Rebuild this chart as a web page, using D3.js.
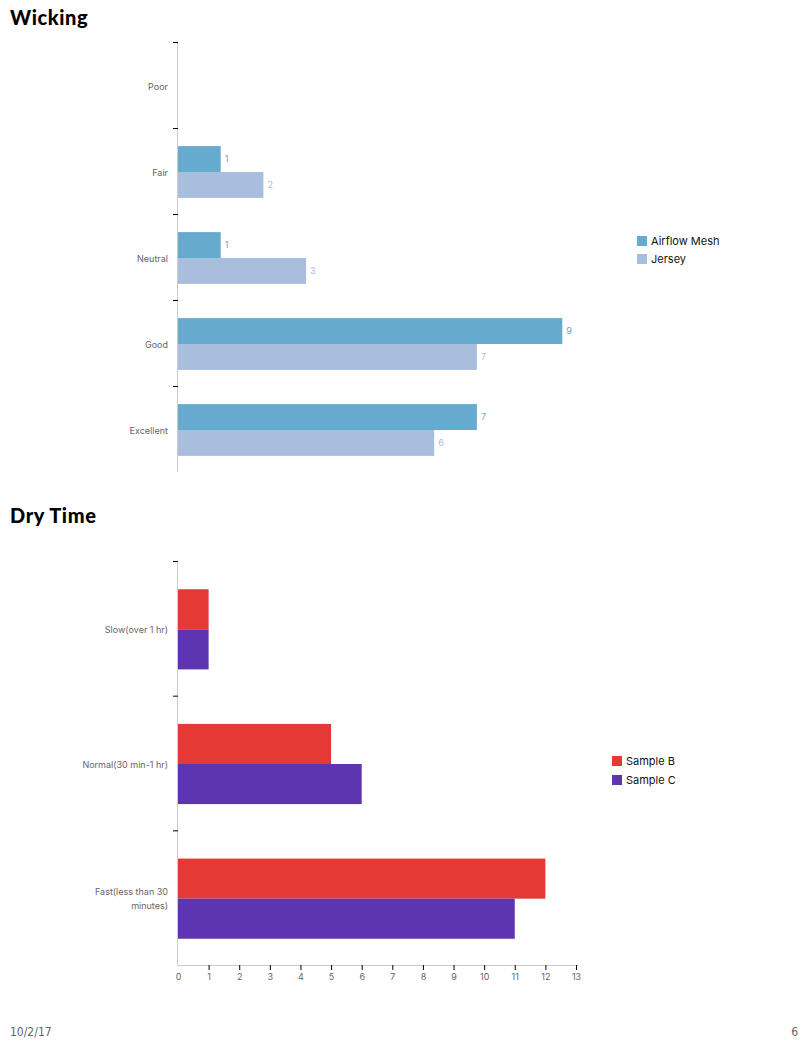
<!DOCTYPE html>
<html><head><meta charset="utf-8">
<script src="https://cdn.jsdelivr.net/npm/d3@7"></script>
<style>
body{margin:0;background:#fff;}
svg{display:block;font-family:"Inter","Liberation Sans",sans-serif;}
</style></head>
<body><svg id="c" width="808" height="1045"></svg>
<script>
const wickCategories = ["Poor","Fair","Neutral","Good","Excellent"];
const wickSeries = ["Airflow Mesh","Jersey"];
const wickAirflow = [0,1,1,9,7];
const wickJersey = [0,2,3,7,6];
const wickColors = ["#67aacf","#a7bedc"];
const wickLabelColors = ["#6aa6d0","#a9bcdc"];

const dryCategories = ["Slow(over 1 hr)","Normal(30 min-1 hr)","Fast(less than 30 minutes)"];
const drySeries = ["Sample B","Sample C"];
const drySampleB = [1,5,12];
const drySampleC = [1,6,11];
const dryColors = ["#e53935","#5e35b1"];
const dryTicks = [0,1,2,3,4,5,6,7,8,9,10,11,12,13];

const svg = d3.select("#c");

svg.append("text").attr("x",10).attr("y",25).text("Wicking")
  .attr("font-family","Lato, 'DejaVu Sans', sans-serif").attr("font-weight","900").attr("font-size",20).attr("letter-spacing",0.6).attr("fill","#000");
svg.append("text").attr("x",10).attr("y",523).text("Dry Time")
  .attr("font-family","Lato, 'DejaVu Sans', sans-serif").attr("font-weight","900").attr("font-size",20).attr("letter-spacing",0.6).attr("fill","#000");

// ---------- Wicking ----------
{
  const x = d3.scaleLinear().domain([0,10]).range([178,605]);
  const y = d3.scaleBand().domain(wickCategories).range([42,472]);
  const inner = d3.scaleBand().domain(wickSeries).range([1,y.bandwidth()+1]).paddingInner(0).paddingOuter(0.66);
  const data = [wickAirflow, wickJersey];
  const g = svg.append("g");
  g.append("line").attr("x1",177.5).attr("x2",177.5).attr("y1",42).attr("y2",472).attr("stroke","#ccc");
  wickCategories.forEach((c,i)=>{
    g.append("line").attr("x1",173).attr("x2",178).attr("y1",y(c)+0.5).attr("y2",y(c)+0.5).attr("stroke","#000");
    g.append("text").attr("x",168).attr("y",y(c)+y.bandwidth()/2).attr("dy","0.55em")
      .attr("text-anchor","end").attr("font-size",9).attr("fill","#666").text(c);
  });
  wickSeries.forEach((s,si)=>{
    wickCategories.forEach((c,i)=>{
      const v = data[si][i];
      if(!v) return;
      const yy = y(c)+inner(s);
      g.append("rect").attr("x",x(0)).attr("y",yy).attr("width",x(v)-x(0)).attr("height",inner.bandwidth()).attr("fill",wickColors[si]);
      g.append("text").attr("x",x(v)+4).attr("y",yy+inner.bandwidth()/2).attr("dy","0.35em")
        .attr("font-size",9).attr("fill",wickLabelColors[si]).text(v);
    });
  });
  wickSeries.forEach((s,si)=>{
    g.append("rect").attr("x",637).attr("y",236+si*18).attr("width",10).attr("height",10).attr("fill",wickColors[si]);
    g.append("text").attr("x",651).attr("y",241+si*18).attr("dy","0.35em").attr("font-size",11).attr("fill","#111").text(s);
  });
}

// ---------- Dry Time ----------
{
  const x = d3.scaleLinear().domain([0,13]).range([178,576]);
  const y = d3.scaleBand().domain(dryCategories).range([561,965]);
  const inner = d3.scaleBand().domain(drySeries).range([1,y.bandwidth()+1]).paddingInner(0).paddingOuter(0.68);
  const data = [drySampleB, drySampleC];
  const g = svg.append("g");
  g.append("line").attr("x1",177.5).attr("x2",177.5).attr("y1",561).attr("y2",965).attr("stroke","#ccc");
  dryCategories.forEach((c,i)=>{
    g.append("line").attr("x1",173).attr("x2",178).attr("y1",y(c)+0.5).attr("y2",y(c)+0.5).attr("stroke","#000");
    const cy = y(c)+y.bandwidth()/2;
    const lines = c === "Fast(less than 30 minutes)" ? ["Fast(less than 30","minutes)"] : [c];
    lines.forEach((t,li)=>{
      g.append("text").attr("x",168).attr("y",cy + (li - (lines.length-1)/2)*14).attr("dy","0.5em")
        .attr("text-anchor","end").attr("font-size",9).attr("fill","#666").text(t);
    });
  });
  drySeries.forEach((s,si)=>{
    dryCategories.forEach((c,i)=>{
      const v = data[si][i];
      g.append("rect").attr("x",x(0)).attr("y",y(c)+inner(s)).attr("width",x(v)-x(0)).attr("height",inner.bandwidth()).attr("fill",dryColors[si]);
    });
  });
  const ax = g.append("g").attr("transform","translate(0,965)")
    .call(d3.axisBottom(x).tickValues(dryTicks).tickSize(5).tickSizeOuter(0).tickFormat(d3.format("d")));
  ax.attr("font-family",null);
  ax.select(".domain").attr("stroke","#ccc").attr("d","M177.5,0.5H579");
  ax.selectAll(".tick line").attr("stroke","#000");
  ax.selectAll(".tick").filter(d=>d===0).select("line").remove();
  ax.selectAll(".tick text").attr("font-size",9).attr("fill","#666").attr("dy","0.5em").attr("y",10);
  drySeries.forEach((s,si)=>{
    g.append("rect").attr("x",612).attr("y",756+si*19).attr("width",10).attr("height",10).attr("fill",dryColors[si]);
    g.append("text").attr("x",626).attr("y",761+si*19).attr("dy","0.35em").attr("font-size",11).attr("fill","#111").text(s);
  });
}

svg.append("text").attr("x",10).attr("y",1036).attr("font-family","'DejaVu Sans Condensed','Liberation Sans Narrow',sans-serif")
  .attr("font-size",12).attr("fill","#666").text("10/2/17");
svg.append("text").attr("x",798).attr("y",1036).attr("text-anchor","end").attr("font-family","'DejaVu Sans Condensed',sans-serif")
  .attr("font-size",12).attr("fill","#666").text("6");
</script></body></html>
